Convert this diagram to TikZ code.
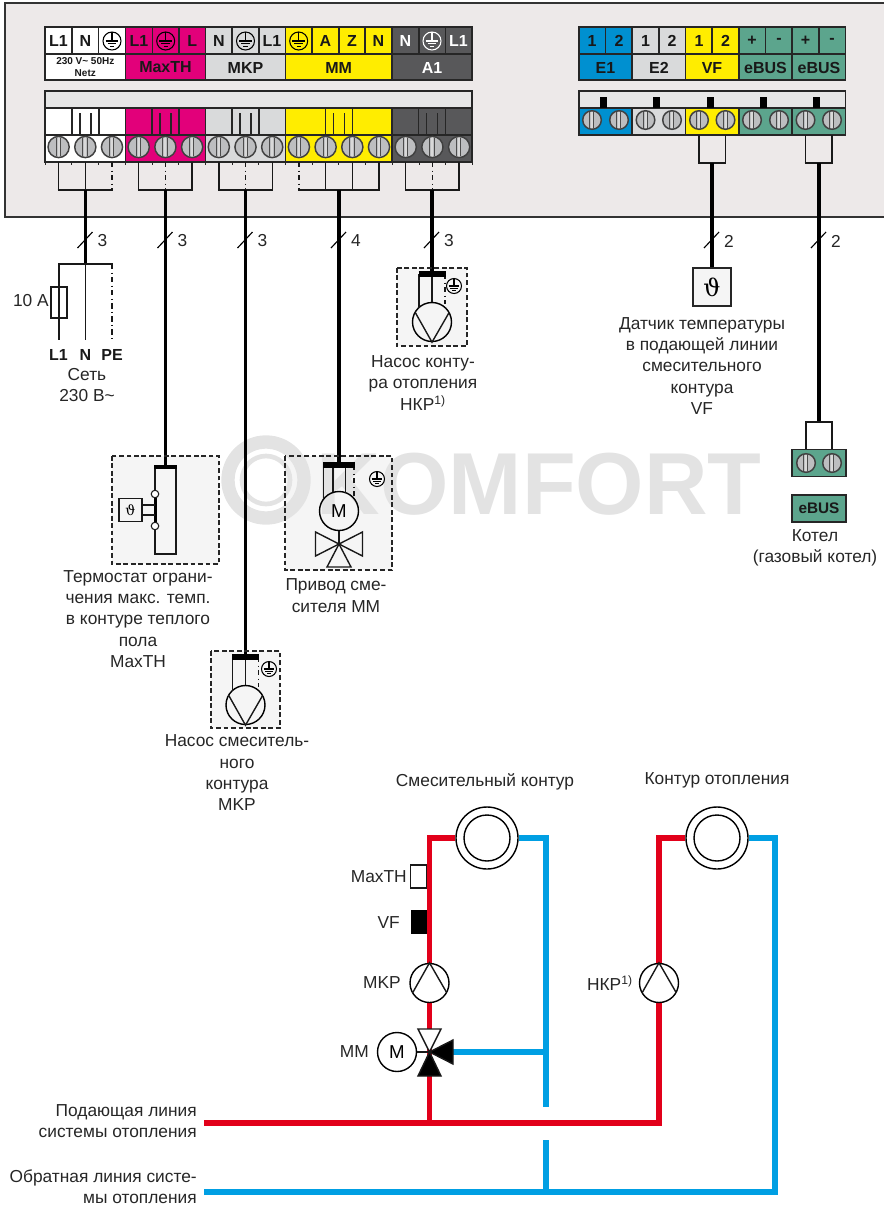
\documentclass[tikz,border=0pt]{standalone}
\usepackage{fontspec}
\setmainfont{Liberation Sans}
\newfontfamily\thfont{DejaVu Serif}
\usetikzlibrary{calc}
\definecolor{panelc}{HTML}{EDE9E9}
\definecolor{mag}{HTML}{E2007A}
\definecolor{lgrey}{HTML}{D9DADB}
\definecolor{yel}{HTML}{FFED00}
\definecolor{dgrey}{HTML}{58585A}
\definecolor{bluee}{HTML}{0090D0}
\definecolor{greene}{HTML}{5CA58D}
\definecolor{pipered}{HTML}{E2001A}
\definecolor{pipeblue}{HTML}{009FE3}
\definecolor{wm}{HTML}{E3E3E3}
\definecolor{screwc}{HTML}{BDBEC0}
\definecolor{barc}{HTML}{E6E6E6}
\definecolor{devc}{HTML}{F5F5F5}
\tikzset{
 lbl/.style={font=\fontsize{13}{16}\selectfont,align=center,inner sep=0pt,text=black!85},
 lblr/.style={lbl,align=right,anchor=east},
 tb/.style={font=\fontsize{12}{12}\bfseries\selectfont,inner sep=0pt,text=black!90},
 tw/.style={font=\fontsize{12}{12}\bfseries\selectfont,inner sep=0pt,text=white},
 tg/.style={font=\fontsize{12}{13}\bfseries\selectfont,inner sep=0pt,text=black!90},
 cellb/.style={draw=black!85,line width=1.1pt},
 thin1/.style={line width=1.05pt,draw=black!90},
 ddash/.style={line width=1.05pt,draw=black!90,dash pattern=on 4pt off 2.5pt on .8pt off 2.5pt},
 busl/.style={line width=1.9pt,draw=black!90},
 mainw/.style={line width=2.3pt,draw=black},
 devbus/.style={line width=3.8pt,draw=black},
 devbox/.style={draw=black!85,line width=.9pt,dash pattern=on 3.6pt off 2pt},
 pumpc/.style={circle,draw=black,line width=1.05pt,minimum size=39*.75pt,inner sep=0pt},
 motorc/.style={pumpc,font=\fontsize{14}{14}\selectfont},
 radc/.style={circle,draw=black,line width=1.05pt,inner sep=0pt},
 redp/.style={line width=4pt,draw=pipered},
 bluep/.style={line width=4pt,draw=pipeblue},
 slashm/.style={line width=.85pt,draw=black},
 numl/.style={font=\fontsize{13}{14}\selectfont,inner sep=0pt,text=black!85},
}
\newcommand{\screwsym}[3]{% x y r
 \fill[screwc] (#1,#2) circle (#3);
 \fill[white!85!black] ({#1-1},{#2-#3+1}) rectangle ({#1+1},{#2+#3-1});
 \draw[black!70,line width=.7pt] ({#1-2.5},{#2-#3+1.5}) -- ({#1-2.5},{#2+#3-1.5}) ({#1+1.8},{#2-#3+1.5}) -- ({#1+1.8},{#2+#3-1.5});
 \draw[black!75,line width=1.1pt] (#1,#2) circle (#3);
}
\newcommand{\earthsym}[4]{% x y r colour
 \draw[#4,line width=.8pt] (#1,#2) circle (#3);
 \draw[#4,line width=.8pt] (#1,{#2-#3}) -- (#1,#2)
  ({#1-.72*#3},#2) -- ({#1+.72*#3},#2)
  ({#1-.48*#3},{#2+.28*#3}) -- ({#1+.48*#3},{#2+.28*#3})
  ({#1-.24*#3},{#2+.56*#3}) -- ({#1+.24*#3},{#2+.56*#3});
}
\begin{document}
\begin{tikzpicture}[x=.75pt,y=-.75pt]
\useasboundingbox (0,0) rectangle (884,1207);
% ---------- device box fills (below the watermark)
\fill[devc] (397,268) rectangle (467,346);
\fill[devc] (112,456) rectangle (219,564);
\fill[devc] (285,456) rectangle (392,570);
\fill[devc] (211,651) rectangle (280,728);
% ---------- watermark
\draw[wm,line width=10pt] (266,480) circle (38);
\draw[wm,line width=3.5pt] (266,480) circle (24);
\node[inner sep=0pt,text=wm,font=\fontsize{66}{70}\bfseries\selectfont,anchor=east] (wmark) at (762,484.5) {KOMFORT};
% ---------- panel
\path[fill=panelc] (5,3) rectangle (890,217);
\draw[black!80,line width=1.1pt] (890,3) -- (5,3) -- (5,217) -- (890,217);
% ---------- left label block
\foreach \xa/\xb/\c in {45/125.5/white,125.5/205.5/mag,205.5/285.5/lgrey,285.5/392/yel,392/472/dgrey}{
  \fill[\c] (\xa,27) rectangle (\xb,80);
  \fill[\c] (\xa,108) rectangle (\xb,162);
}
\foreach \x in {45,125.5,205.5,285.5,392,472}{
  \draw[cellb] (\x,27) -- (\x,80);
}
\foreach \x in {72,98.5,152.5,179,232,259,312,339,365,419,445.5}{
  \draw[cellb] (\x,27) -- (\x,54);
}
\draw[cellb] (45,27) rectangle (472,80);
\draw[cellb] (45,54) -- (472,54);
\node[tb] (t1) at (58.5,41) {L1};
\node[tb] (t2) at (85.3,41) {N};
\earthsym{112}{41}{9}{black}
\node[tb] (t4) at (139,41) {L1};
\earthsym{165.7}{41}{9}{black}
\node[tb] (t6) at (192.3,41) {L};
\node[tb] (t7) at (219,41) {N};
\earthsym{245.5}{41}{9}{black}
\node[tb] (t9) at (272,41) {L1};
\earthsym{298.7}{41}{9}{black}
\node[tb] (t11) at (325.5,41) {A};
\node[tb] (t12) at (352,41) {Z};
\node[tb] (t13) at (378.5,41) {N};
\node[tw] (t14) at (405.5,41) {N};
\earthsym{432}{41}{9}{white}
\node[tw] (t16) at (458.5,41) {L1};
\node[tb,font=\fontsize{7.5}{9.5}\bfseries\selectfont,align=center] (netz) at (85.3,67) {230 V\textasciitilde{} 50Hz\\Netz};
\node[tg] (gmax) at (165.5,67.5) {MaxTH};
\node[tg] (gmkp) at (245.5,67.5) {MKP};
\node[tg] (gmm) at (338.7,67.5) {MM};
\node[tg,text=white] (ga1) at (432,67.5) {A1};
% ---------- left terminal strip
\fill[barc] (45,91) rectangle (472,108);
\draw[cellb] (45,91) rectangle (472,162);
\draw[cellb] (45,108) -- (472,108);
\draw[cellb] (45,135) -- (472,135);
\foreach \x in {125.5,205.5,285.5,392}{\draw[cellb] (\x,108) -- (\x,162);}
\foreach \c in {85.5,165.5,245.5,339,432}{
  \draw[cellb] ({\c-13.3},108) -- ({\c-13.3},135) ({\c+13.3},108) -- ({\c+13.3},135);
  \draw[cellb] ({\c-5.7},113) -- ({\c-5.7},135) ({\c+5.7},113) -- ({\c+5.7},135);
}
\foreach \i in {0,...,15}{
  \pgfmathsetmacro\sx{58.6+26.7*\i}
  \screwsym{\sx}{147}{10.6}
  \coordinate (s\i) at (\sx,162);
  \coordinate (b\i) at (\sx,190);
  \draw[black!85,line width=.7pt] ({\sx-13.35},162) -- ({\sx-13.35},165);
}
\draw[black!85,line width=.7pt] (472,162) -- (472,165);
% wires to the strip
\foreach \i in {0,1,3,5,6,8,10,11,12,13,15}{\draw[thin1] (s\i) -- (b\i);}
\foreach \i in {2,4,7,9,14}{\draw[ddash] (s\i) -- (b\i);}
\draw[busl] ([xshift=-.7pt]b0) -- ([xshift=.7pt]b2);
\draw[busl] ([xshift=-.7pt]b3) -- ([xshift=.7pt]b5);
\draw[busl] ([xshift=-.7pt]b6) -- ([xshift=.7pt]b8);
\draw[busl] ([xshift=-.7pt]b9) -- ([xshift=.7pt]b12);
\draw[busl] ([xshift=-.7pt]b13) -- ([xshift=.7pt]b15);
% ---------- right label block
\foreach \xa/\xb/\c in {579/632/bluee,632/685.5/lgrey,685.5/739/yel,739/792/greene,792/845.5/greene}{
  \fill[\c] (\xa,27) rectangle (\xb,80);
  \fill[\c] (\xa,108) rectangle (\xb,135);
  \draw[cellb] (\xa,27) -- (\xa,80) (\xa,108) -- (\xa,135);
}
\foreach \x in {605.5,659,712,765.5,819}{\draw[cellb] (\x,27) -- (\x,54);}
\draw[cellb] (579,27) rectangle (845.5,80);
\draw[cellb] (579,54) -- (845.5,54);
\foreach \i/\x/\t in {a/592/1,b/619/2,c/645.5/1,d/672/2,e/699/1,f/725.5/2,g/752/+,h/779/-,i/805.5/+,j/832/-}{
  \node[tb] (r\i) at (\x,41) {\t};
}
\foreach \n/\x/\t in {re1/605.5/E1,re2/659/E2,rvf/712/VF,rb1/765.5/eBUS,rb2/819/eBUS}{
  \node[tg] (\n) at (\x,67.5) {\t};
}
% ---------- right strip
\fill[barc] (579,91) rectangle (845.5,108);
\draw[cellb] (579,91) rectangle (845.5,135);
\draw[cellb] (579,108) -- (845.5,108);
\foreach \x in {603,656,710,763,816}{\fill[black] ({\x-3.5},97) rectangle ({\x+3.5},108);}
\foreach \i/\x in {e/699,f/725.5,g/752,h/779,i/805.5,j/832,a/592,b/619,c/645.5,d/672}{
  \screwsym{\x}{120}{9.3}
  \coordinate (rs\i) at (\x,135);
  \coordinate (rb\i) at (\x,163);
}
\draw[thin1] (rse) -- (rbe) (rsf) -- (rbf) (rsi) -- (rbi) (rsj) -- (rbj);
\draw[busl] ([xshift=-.7pt]rbe) -- ([xshift=.7pt]rbf);
\draw[busl] ([xshift=-.7pt]rbi) -- ([xshift=.7pt]rbj);
% ---------- mains
\coordinate (mNetz) at (85.5,190);
\coordinate (mMax) at (165.5,190);
\coordinate (mMkp) at (245.5,190);
\coordinate (mMm) at (339,190);
\coordinate (mA1) at (432,190);
\coordinate (mVf) at (712,163);
\coordinate (mBus) at (819,163);
\coordinate (eNetz) at (85.5,264);
\coordinate (eMax) at (165.5,467);
\coordinate (eMkp) at (245.5,657);
\coordinate (eMm) at (339,465);
\coordinate (eA1) at (432,274);
\coordinate (eBus) at (819,422);
% sensor VF
\node[draw=black!85,fill=devc,line width=1.05pt,minimum size=38*.75pt,inner sep=0pt] (vfs) at (712,287) {\thfont\fontsize{18}{18}\selectfont ϑ};
\foreach \a/\b in {mNetz/eNetz,mMax/eMax,mMkp/eMkp,mMm/eMm,mA1/eA1,mVf/vfs.north,mBus/eBus}{\draw[mainw] (\a) -- (\b);}
% slash marks and counts
\foreach \x/\t in {85.5/3,165.5/3,245.5/3,339/4,432/3,712/2,819/2}{
  \draw[slashm] ({\x-8},248) -- ({\x+7},232);
  \node[numl] at ({\x+17},241) {\t};
}
% ---------- mains supply
\coordinate (nL) at (59,264);\coordinate (nN) at (85.5,264);\coordinate (nP) at (112,264);
\coordinate (eL) at (59,340);\coordinate (eN) at (85.5,340);\coordinate (eP) at (112,340);
\draw[thin1] (nL) -- (eL);\draw[thin1] (nN) -- (eN);\draw[ddash] (nP) -- (eP);
\draw[busl] ([xshift=-.7pt]nL) -- ([xshift=.7pt]nP);
\node[draw=black!90,fill=white,line width=1pt,minimum width=16*.75pt,minimum height=31*.75pt,inner sep=0pt] (fuse) at (59,302.5) {};
\draw[thin1] (fuse.north) -- (fuse.south);
\node[numl,anchor=east] (fa) at (49,301) {10 A};
\node[tb] (lL) at (58.5,355) {L1};
\node[tb] (lN) at (85.3,355) {N};
\node[tb] (lP) at (112,355) {PE};
\node[lbl] (mains) at (87,385) {Сеть\\230 В\textasciitilde};
% ---------- A1 pump
\draw[devbox] (397,268) rectangle (467,346);
\node[pumpc] (pA1) at (432,322) {};
\draw[thin1] (419,274) -- (419,{322-14});
\draw[thin1] (eA1) -- (pA1.north);
\draw[ddash] (445,274) -- (445,304);
\draw[devbus] (418.5,274) -- (446,274);
\draw[thin1] (pA1.center) ++(-17,-10) -- (pA1.south) -- ++(17,-29.5);
\earthsym{454}{286}{7.5}{black}
\node[lbl] (tA1) at (423,383) {Насос конту-\\ра отопления\\НКР\textsuperscript{1)}};
% ---------- VF sensor text
\node[lbl] (tVF) at (702,366) {Датчик температуры\\в подающей линии\\смесительного\\контура\\VF};
% ---------- MaxTH device
\draw[devbox] (112,456) rectangle (219,564);
\draw[thin1] (155,467) rectangle (176,554);
\draw[line width=1.6pt,black] (155.5,494) -- (155.5,526);
\draw[devbus,line width=2.6pt] (154,467) -- (177,467);
\node[draw=black!90,fill=devc,line width=1pt,minimum width=23*.75pt,minimum height=23*.75pt,inner sep=0pt,font=\thfont\fontsize{10.5}{10.5}\selectfont] (thS) at (130.5,510) {ϑ};
\draw[thin1] (thS.east |- 0,505) -- (155,505) (thS.east |- 0,515) -- (155,515);
\node[circle,draw=black!90,fill=white,line width=.8pt,minimum size=7.5*.75pt,inner sep=0pt] (th1) at (155,494) {};
\node[circle,draw=black!90,fill=white,line width=.8pt,minimum size=7.5*.75pt,inner sep=0pt] (th2) at (155,526) {};
\node[lbl] (tMax) at (138,619) {Термостат ограни-\\чения макс. темп.\\в контуре теплого\\пола\\MaxTH};
% ---------- MM device
\draw[devbox] (285,456) rectangle (392,570);
\node[motorc] (mMot) at (339,511) {M};
\foreach \x in {323.5,333,345.5}{\draw[thin1] (\x,465) -- (\x,{511-sqrt(19.5*19.5-(\x-339)*(\x-339))});}
\draw[ddash] (354,465) -- (354,498);
\draw[devbus] (323,465) -- (355,465);
\draw[thin1] (mMot.south) -- (339,544);
\draw[thin1] (339,544) -- (315.5,532) -- (315.5,556) -- cycle;
\draw[thin1] (339,544) -- (362.5,532) -- (362.5,556) -- cycle;
\draw[thin1] (339,544) -- (327,567) -- (351,567) -- cycle;
\earthsym{377}{479}{7.5}{black}
\node[lbl] (tMM) at (336,595.5) {Привод сме-\\сителя MM};
% ---------- MKP device
\draw[devbox] (211,651) rectangle (280,728);
\node[pumpc] (pMk) at (245.5,705) {};
\draw[thin1] (232.5,657) -- (232.5,{705-14});
\draw[thin1] (eMkp) -- (pMk.north);
\draw[ddash] (258.5,657) -- (258.5,687);
\draw[devbus] (232,657) -- (259,657);
\draw[thin1] (pMk.center) ++(-17,-10) -- (pMk.south) -- ++(17,-29.5);
\earthsym{269}{669}{7.5}{black}
\node[lbl] (tMk) at (237,773) {Насос смеситель-\\ного\\контура\\MKP};
% ---------- eBUS boiler
\coordinate (kb1) at (806,422);\coordinate (kb2) at (832,422);
\coordinate (ks1) at (806,449);\coordinate (ks2) at (832,449);
\draw[thin1] (kb1) -- (ks1);\draw[thin1] (kb2) -- (ks2);
\draw[busl] ([xshift=-.7pt]kb1) -- ([xshift=.7pt]kb2);
\node[draw=black!85,fill=greene,line width=1.1pt,minimum width=54*.75pt,minimum height=27*.75pt,inner sep=0pt] (kterm) at (819,463) {};
\screwsym{806}{463}{9.3}
\screwsym{832}{463}{9.3}
\node[draw=black!85,fill=greene,line width=1.1pt,minimum width=54*.75pt,minimum height=27*.75pt,inner sep=0pt,font=\fontsize{11.5}{12}\bfseries\selectfont,text=black!90] (kbus) at (819,508.5) {eBUS};
\node[lbl] (tK) at (815,548) {Котел\\(газовый котел)};
% ---------- hydraulic scheme
\node[lbl] (tC1) at (485,782) {Смесительный контур};
\node[lbl] (tC2) at (717,780) {Контур отопления};
\node[radc,minimum size=62*.75pt] (rad1) at (487,838) {};
\node[radc,minimum size=46*.75pt] (rad1i) at (487,838) {};
\node[radc,minimum size=62*.75pt] (rad2) at (717,838) {};
\node[radc,minimum size=46*.75pt] (rad2i) at (717,838) {};
% pipes
\coordinate (rj1) at (429.5,1125);
\coordinate (rStart) at (204,1123);
\coordinate (bStart) at (204,1192);
\coordinate (bj) at (546,1192);
\coordinate (bEnd1) at (546,1107);
\coordinate (bStub) at (546,1140);
\node[circle,inner sep=0pt,minimum size=0pt] (vc) at (429.5,1052) {};
\coordinate (vright) at (453,1052);
\draw[bluep] (rad1.east) -- (546,838) -- (bEnd1);
\draw[bluep] (vright) -- (546,1052);
\draw[bluep] (bStub) -- (bj);
\draw[bluep] (bStart) -- (775,1192) -- (775,838) -- (rad2.east);
\draw[redp] (rStart) -- (659,1123) -- (659,838) -- (rad2.west);
\draw[redp] (rj1) -- (429.5,838) -- (rad1.west);
% sensors on the riser
\node[draw=black!90,fill=white,line width=.9pt,minimum width=16*.75pt,minimum height=23*.75pt,inner sep=0pt] (sMax) at (418.5,876.5) {};
\node[fill=black,minimum width=16*.75pt,minimum height=24*.75pt,inner sep=0pt] (sVf) at (418.5,922) {};
\node[lblr] (lMax) at (407,877) {MaxTH};
\node[lblr] (lVf) at (400,923) {VF};
% pumps
\node[pumpc,fill=white] (pM) at (429.5,983) {};
\draw[thin1] (pM.center) ++(-17,10) -- (pM.north) -- ++(17,29.5);
\node[lblr] (lM) at (401,983) {MKP};
\node[pumpc,fill=white] (pH) at (659,983) {};
\draw[thin1] (pH.center) ++(-17,10) -- (pH.north) -- ++(17,29.5);
\node[lblr] (lH) at (633,983) {НКР\textsuperscript{1)}};
% mixer
\node[motorc,fill=white] (mO) at (397,1052) {M};
\node[lblr] (lO) at (369,1052) {MM};
\draw[thin1] (mO.east) -- (vc);
\draw[thin1,fill=white] (vc.center) -- (418,1029) -- (441,1029) -- cycle;
\draw[thin1,fill=black] (vc.center) -- (418,1076) -- (441,1076) -- cycle;
\draw[thin1,fill=black] (vc.center) -- (453,1040) -- (453,1064) -- cycle;
% line names
\node[lblr] (lF) at (197,1121) {Подающая линия\\системы отопления};
\node[lblr] (lR) at (197,1187) {Обратная линия систе-\\мы отопления};
\end{tikzpicture}
\end{document}
